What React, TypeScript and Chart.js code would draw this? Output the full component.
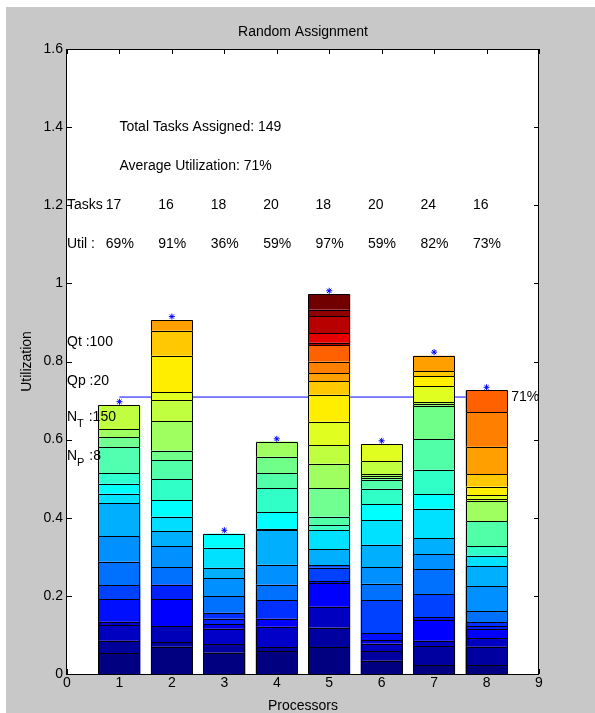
import React, { useEffect, useRef } from 'react';
import { Chart, registerables } from 'chart.js';

Chart.register(...registerables);

// ---------- data ----------
const processors = [1, 2, 3, 4, 5, 6, 7, 8];
const taskCounts = [17, 16, 18, 20, 18, 20, 24, 16];
const utilLabels = ['69%', '91%', '36%', '59%', '97%', '59%', '82%', '73%'];
const totalTasks = 149;
const avgUtil = 0.709;
const avgLabel = '71%';
const qt = 100;
const qp = 20;
const nT = 150;
const nP = 8;
const starValues = [0.697, 0.915, 0.368, 0.602, 0.981, 0.597, 0.824, 0.734];

// cumulative tops of each task segment, bottom to top
const bar1Tops = [0.053, 0.085, 0.125, 0.134, 0.191, 0.228, 0.288, 0.353, 0.437, 0.462, 0.487, 0.514, 0.580, 0.606, 0.626, 0.688];
const bar2Tops = [0.070, 0.082, 0.123, 0.191, 0.229, 0.273, 0.328, 0.365, 0.403, 0.445, 0.499, 0.548, 0.572, 0.647, 0.701, 0.721, 0.815, 0.879, 0.906];
const bar3Tops = [0.055, 0.076, 0.116, 0.127, 0.142, 0.157, 0.200, 0.245, 0.272, 0.323, 0.359];
const bar4Tops = [0.059, 0.068, 0.121, 0.142, 0.189, 0.229, 0.280, 0.368, 0.372, 0.414, 0.476, 0.514, 0.556, 0.595];
const bar5Tops = [0.068, 0.119, 0.172, 0.232, 0.238, 0.272, 0.278, 0.319, 0.368, 0.381, 0.403, 0.476, 0.538, 0.586, 0.646, 0.715, 0.749, 0.770, 0.800, 0.841, 0.848, 0.872, 0.916, 0.933, 0.972];
const bar6Tops = [0.034, 0.059, 0.078, 0.087, 0.105, 0.189, 0.231, 0.274, 0.331, 0.393, 0.435, 0.474, 0.497, 0.501, 0.507, 0.511, 0.544, 0.589];
const bar7Tops = [0.023, 0.072, 0.085, 0.138, 0.146, 0.204, 0.269, 0.306, 0.348, 0.423, 0.460, 0.523, 0.601, 0.685, 0.691, 0.696, 0.737, 0.762, 0.775, 0.815];
const bar8Tops = [0.023, 0.070, 0.091, 0.115, 0.123, 0.132, 0.161, 0.225, 0.276, 0.303, 0.327, 0.391, 0.442, 0.448, 0.457, 0.480, 0.511, 0.582, 0.671, 0.726];

const bar1Colors = ['#000080', '#00009a', '#0000c0', '#0000d0', '#0010ff', '#0040ff', '#0070ff', '#0090ff', '#00b0ff', '#00e0ff', '#00ffff', '#30ffd0', '#50ffb0', '#70ff90', '#a0ff60', '#c0ff40'];
const bar2Colors = ['#000080', '#0000a0', '#0000b8', '#0000ff', '#0020ff', '#0070ff', '#0090ff', '#00b0ff', '#00ddff', '#00ffff', '#30ffc8', '#50ffa8', '#70ff88', '#a0ff60', '#c0ff40', '#e0ff20', '#ffee00', '#ffc800', '#ffa000'];
const bar3Colors = ['#000080', '#0000a0', '#0000c8', '#0000e8', '#0020ff', '#0030ff', '#0070ff', '#0090ff', '#00b0ff', '#00e0ff', '#00ffff'];
const bar4Colors = ['#000080', '#0000a0', '#0000c8', '#0000ff', '#0030ff', '#0070ff', '#0090ff', '#00b0ff', '#00c8ff', '#00ffff', '#30ffc8', '#50ffa8', '#70ff88', '#a0ff60'];
const bar5Colors = ['#000080', '#0000a0', '#0000c0', '#0000ff', '#0010ff', '#0040ff', '#0050ff', '#00b0ff', '#00e0ff', '#40ffc0', '#50ffa8', '#70ff90', '#a0ff60', '#c0ff40', '#e0ff20', '#ffee00', '#ffc800', '#ffa000', '#ff8000', '#ff6000', '#c00000', '#e80000', '#b80000', '#900000', '#700000'];
const bar6Colors = ['#000080', '#0000a0', '#0000c0', '#0000d8', '#0010ff', '#0040ff', '#0070ff', '#0090ff', '#00b0ff', '#00e0ff', '#00ffff', '#30ffc8', '#50ffa8', '#70ff88', '#90ff70', '#a0ff60', '#c0ff40', '#e0ff20'];
const bar7Colors = ['#000080', '#0000a0', '#0000c0', '#0000ff', '#0010ff', '#0040ff', '#0070ff', '#0090ff', '#00b0ff', '#00e0ff', '#00ffff', '#30ffc8', '#50ffa8', '#70ff88', '#90ff70', '#b0ff50', '#e0ff20', '#ffee00', '#ffc800', '#ffa000'];
const bar8Colors = ['#000080', '#0000a0', '#0000c0', '#0000ff', '#0020ff', '#0030ff', '#0070ff', '#0090ff', '#00b0ff', '#00e0ff', '#30ffc8', '#50ffa8', '#a0ff60', '#c0ff40', '#e0ff20', '#ffee00', '#ffc800', '#ffa000', '#ff8000', '#ff6000'];

const barTops = [bar1Tops, bar2Tops, bar3Tops, bar4Tops, bar5Tops, bar6Tops, bar7Tops, bar8Tops];
const barColors = [bar1Colors, bar2Colors, bar3Colors, bar4Colors, bar5Colors, bar6Colors, bar7Colors, bar8Colors];

const FONT_FAMILY = '"Liberation Sans", Arial, Helvetica, sans-serif';
const FS = 14;

function buildDatasets() {
  const maxSeg = Math.max(...barTops.map((t) => t.length));
  const ds: any[] = [];
  for (let k = 0; k < maxSeg; k++) {
    const data: any[] = [];
    const colors: string[] = [];
    barTops.forEach((tops, b) => {
      if (k < tops.length) {
        data.push({ x: processors[b], y: tops[k] - (k > 0 ? tops[k - 1] : 0) });
        colors.push(barColors[b][k]);
      }
    });
    ds.push({
      type: 'bar',
      data,
      backgroundColor: colors,
      borderWidth: 0,
      inflateAmount: 0,
      categoryPercentage: 1,
      barPercentage: 0.8,
      order: 1,
      stack: 'bars',
    });
  }
  ds.push({
    type: 'line',
    data: [
      { x: processors[0], y: avgUtil },
      { x: processors[processors.length - 1], y: avgUtil },
    ],
    borderColor: '#0000ff',
    borderWidth: 1,
    pointRadius: 0,
    fill: false,
    order: 2,
    stack: 'avg',
  });
  ds.push({
    type: 'line',
    data: processors.map((p, i) => ({ x: p, y: starValues[i] })),
    showLine: false,
    pointStyle: 'star',
    pointRadius: 3,
    borderColor: '#0000ff',
    backgroundColor: '#0000ff',
    borderWidth: 1,
    order: 0,
    stack: 'stars',
  });
  return ds;
}

const decor = {
  id: 'decor',
  beforeDraw(chart: any) {
    const { ctx, chartArea: a, width, height } = chart;
    ctx.save();
    ctx.fillStyle = '#ffffff';
    ctx.fillRect(0, 0, width, height);
    ctx.fillStyle = '#c8c8c8';
    ctx.fillRect(6, 7, width - 6, height - 7);
    ctx.fillStyle = '#ffffff';
    ctx.fillRect(a.left, a.top, a.right - a.left, a.bottom - a.top);
    ctx.restore();
  },
  beforeDatasetsDraw(chart: any) {
    const { ctx, chartArea: a } = chart;
    const xs = chart.scales.x;
    const ys = chart.scales.y;
    const L = 5;
    ctx.save();
    ctx.strokeStyle = '#000000';
    ctx.lineWidth = 1;
    ctx.beginPath();
    xs.ticks.forEach((t: any) => {
      const px = Math.round(xs.getPixelForValue(t.value)) + 0.5;
      ctx.moveTo(px, a.bottom);
      ctx.lineTo(px, a.bottom - L);
      ctx.moveTo(px, a.top);
      ctx.lineTo(px, a.top + L);
    });
    ys.ticks.forEach((t: any) => {
      const py = Math.round(ys.getPixelForValue(t.value)) + 0.5;
      ctx.moveTo(a.left, py);
      ctx.lineTo(a.left + L, py);
      ctx.moveTo(a.right, py);
      ctx.lineTo(a.right - L, py);
    });
    ctx.stroke();
    ctx.restore();
  },
  afterDatasetDraw(chart: any, args: any) {
    const meta = args.meta;
    if (meta.type !== 'bar') return;
    const { ctx } = chart;
    ctx.save();
    ctx.strokeStyle = '#000000';
    ctx.lineWidth = 1;
    meta.data.forEach((el: any) => {
      const { x, y, base, width } = el.getProps(['x', 'y', 'base', 'width'], true);
      const l = Math.round(x - width / 2) + 0.5;
      const r = Math.round(x + width / 2) - 0.5;
      const t = Math.round(y) + 0.5;
      const b = Math.round(base) + 0.5;
      ctx.beginPath();
      ctx.moveTo(l, b);
      ctx.lineTo(l, t);
      ctx.lineTo(r, t);
      ctx.lineTo(r, b);
      ctx.stroke();
    });
    ctx.restore();
  },
  afterDatasetsDraw(chart: any) {
    const { ctx, chartArea: a } = chart;
    const xs = chart.scales.x;
    const ys = chart.scales.y;
    const X = (v: number) => xs.getPixelForValue(v);
    const Y = (v: number) => ys.getPixelForValue(v);
    ctx.save();
    // frame
    ctx.strokeStyle = '#000000';
    ctx.lineWidth = 1;
    ctx.strokeRect(Math.round(a.left) - 0.5, Math.round(a.top) + 0.5, Math.round(a.right - a.left), Math.round(a.bottom - a.top));

    ctx.fillStyle = '#000000';
    ctx.font = `${FS}px ${FONT_FAMILY}`;
    // title
    ctx.textAlign = 'center';
    ctx.textBaseline = 'middle';
    ctx.fillText('Random Assignment', (a.left + a.right) / 2, a.top - 17);

    ctx.textAlign = 'left';
    ctx.fillText(`Total Tasks Assigned: ${totalTasks}`, X(1), Y(1.4));
    ctx.fillText(`Average Utilization: ${avgLabel}`, X(1), Y(1.3));
    ctx.fillText('Tasks', X(0), Y(1.2));
    ctx.fillText('Util :', X(0), Y(1.1));
    processors.forEach((p, i) => {
      ctx.fillText(String(taskCounts[i]), X(p - 0.26), Y(1.2));
      ctx.fillText(utilLabels[i], X(p - 0.26), Y(1.1));
    });
    ctx.fillText(`Qt :${qt}`, X(0), Y(0.85));
    ctx.fillText(`Qp :${qp}`, X(0), Y(0.75));

    const drawSub = (main: string, sub: string, rest: string, yv: number) => {
      const x0 = X(0);
      const yc = Y(yv);
      ctx.font = `${FS}px ${FONT_FAMILY}`;
      ctx.fillText(main, x0, yc - 3);
      const w1 = ctx.measureText(main).width;
      ctx.font = `${FS - 3}px ${FONT_FAMILY}`;
      ctx.fillText(sub, x0 + w1, yc + 4);
      const w2 = ctx.measureText(sub).width;
      ctx.font = `${FS}px ${FONT_FAMILY}`;
      ctx.fillText(rest, x0 + w1 + w2 + 1, yc - 3);
    };
    drawSub('N', 'T', ` :${nT}`, 0.65);
    drawSub('N', 'P', ` :${nP}`, 0.55);

    ctx.font = `${FS}px ${FONT_FAMILY}`;
    ctx.fillText(avgLabel, X(8.47), Y(avgUtil));
    ctx.restore();
  },
};

export default function App() {
  const ref = useRef<HTMLCanvasElement>(null);
  useEffect(() => {
    if (!ref.current) return;
    const chart = new Chart(ref.current, {
      type: 'bar',
      data: { datasets: buildDatasets() as any },
      options: {
        responsive: false,
        animation: false,
        devicePixelRatio: 1,
        layout: { padding: { left: 0, top: 49, right: 56, bottom: 0 } },
        plugins: {
          legend: { display: false },
          tooltip: { enabled: false },
          title: { display: false },
        },
        scales: {
          x: {
            type: 'linear',
            min: 0,
            max: 9,
            stacked: true,
            offset: false,
            grid: { display: false, drawTicks: false, offset: false },
            border: { display: false },
            ticks: {
              stepSize: 1,
              padding: 1,
              maxRotation: 0,
              autoSkip: false,
              color: '#000000',
              font: { family: FONT_FAMILY, size: FS },
            },
            title: {
              display: true,
              text: 'Processors',
              color: '#000000',
              font: { family: FONT_FAMILY, size: FS, lineHeight: 1 },
              padding: { top: 0, bottom: 0 },
            },
            afterFit: (scale: any) => {
              scale.height = 39;
            },
          },
          y: {
            type: 'linear',
            min: 0,
            max: 1.6,
            stacked: true,
            grid: { display: false, drawTicks: false },
            border: { display: false },
            ticks: {
              stepSize: 0.2,
              padding: 4,
              color: '#000000',
              font: { family: FONT_FAMILY, size: FS },
              callback: (v: any) => String(Math.round(Number(v) * 10) / 10),
            },
            title: {
              display: true,
              text: 'Utilization',
              color: '#000000',
              font: { family: FONT_FAMILY, size: FS, lineHeight: 1 },
              padding: { top: 20, bottom: 0 },
            },
            afterFit: (scale: any) => {
              scale.width = 67;
            },
          },
        },
      } as any,
      plugins: [decor],
    });
    return () => chart.destroy();
  }, []);
  return (
    <canvas
      ref={ref}
      width={595}
      height={713}
      style={{ position: 'absolute', left: 0, top: 0, width: 595, height: 713 }}
    />
  );
}
